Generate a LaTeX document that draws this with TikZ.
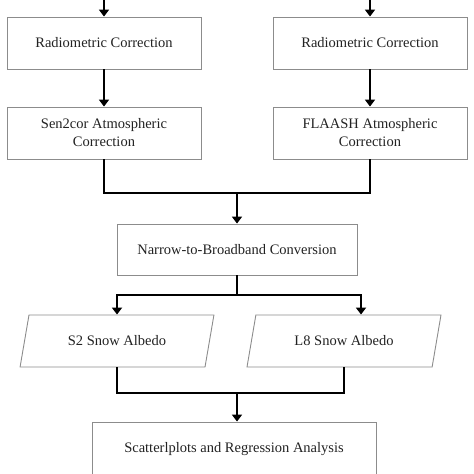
\documentclass[tikz,border=0pt]{standalone}
\usepackage{fontspec}
\setmainfont{Liberation Serif}
\usetikzlibrary{arrows.meta,shapes.geometric}
\definecolor{boxline}{HTML}{8C8C8C}
\definecolor{txt}{HTML}{222222}
\tikzset{
  procbox/.style={draw=boxline, line width=0.9pt, rectangle, minimum width=194pt, minimum height=52pt, align=center, inner sep=0pt, text=txt, font=\fontsize{14.5}{18}\selectfont},
  databox/.style={draw=boxline, line width=0.9pt, trapezium, trapezium left angle=64, trapezium right angle=116, trapezium stretches=true, minimum width=194pt, minimum height=52pt, inner sep=0pt, text=txt, font=\fontsize{14.5}{18}\selectfont},
  flow/.style={draw=black, line width=1.8pt},
  flowarr/.style={flow, -{Triangle[width=10pt,length=7pt]}},
}
\begin{document}
\begin{tikzpicture}[x=1pt,y=-1pt]
\useasboundingbox (0,0) rectangle (474,474);
\clip (0,0) rectangle (474,474);
% nodes
\node[procbox] (rc1) at (104,43) {Radiometric Correction};
\node[procbox] (ac1) at (104,133) {Sen2cor Atmospheric\\Correction};
\node[procbox] (rc2) at (370,43) {Radiometric Correction};
\node[procbox] (ac2) at (370,133) {FLAASH Atmospheric\\Correction};
\node[procbox, minimum width=240pt, minimum height=51pt] (nb) at (237,249.5) {Narrow-to-Broadband Conversion};
\node[databox] (s2) at (117,341) {S2 Snow Albedo};
\node[databox] (l8) at (344,341) {L8 Snow Albedo};
\node[procbox, minimum width=284pt, minimum height=54pt] (sc) at (234,449) {Scatterlplots and Regression Analysis};
% free ends
\coordinate (in1) at (104,0);
\coordinate (in2) at (370,0);
\coordinate (j1) at (237,193);
\coordinate (j2) at (237,295);
\coordinate (j3) at (237,393);
% connectors
\draw[flowarr] (in1) -- (rc1.north);
\draw[flowarr] (in2) -- (rc2.north);
\draw[flowarr] (rc1.south) -- (ac1.north);
\draw[flowarr] (rc2.south) -- (ac2.north);
\draw[flow] (ac1.south) |- (j1);
\draw[flow] (ac2.south) |- (j1);
\draw[flowarr] (j1) -- (nb.north);
\draw[flow] (nb.south) -- (j2);
\draw[flowarr] (j2) -| (s2.north);
\draw[flowarr] (j2) -| ([xshift=17pt]l8.north);
\draw[flow] (s2.south) |- (j3);
\draw[flow] (l8.south) |- (j3);
\draw[flowarr] (j3) -- (j3 |- sc.north);
\end{tikzpicture}
\end{document}
